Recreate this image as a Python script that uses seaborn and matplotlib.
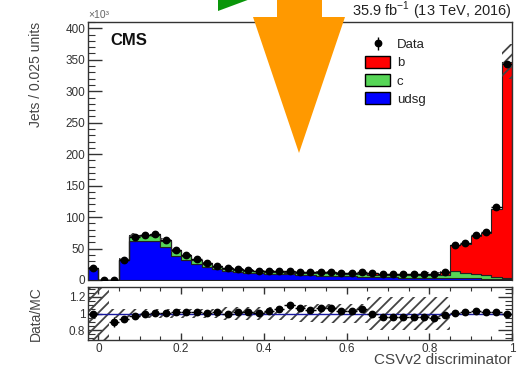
import numpy as np
import pandas as pd
import matplotlib
matplotlib.use("Agg")
import matplotlib.pyplot as plt
from matplotlib.ticker import MultipleLocator, FixedLocator, FuncFormatter
from matplotlib.patches import Polygon, Patch
import seaborn as sns

sns.set_theme(style="white")
plt.rcParams["font.family"] = ["Liberation Sans", "DejaVu Sans"]
plt.rcParams["hatch.linewidth"] = 1.3
plt.rcParams["axes.unicode_minus"] = False

# ---------------- data (jets, x10^3) ----------------
bin_width = 0.025
x_lo, x_hi = -0.025, 1.0
n_bins = 41
centers = x_lo + bin_width * (np.arange(n_bins) + 0.5)

udsg = [17.0, 0.0, 0.15, 31.0, 62.0, 62.0, 62.0, 53.0, 38.0, 31.5, 26.0, 21.0, 17.0,
        14.5, 12.8, 11.5, 10.8, 10.2, 9.6, 8.8, 8.2, 7.2, 7.0, 6.8, 6.0, 5.8, 5.5,
        4.6, 4.2, 4.0, 3.8, 3.6, 3.5, 3.3, 3.2, 3.7, 3.0, 2.5, 2.0, 1.5, 1.0]
charm = [1.2, 0.0, 0.04, 1.5, 8.0, 9.0, 9.5, 9.0, 8.0, 6.5, 5.5, 4.5, 3.8,
         3.4, 3.2, 3.1, 3.0, 3.0, 3.0, 3.0, 3.0, 3.3, 3.8, 3.9, 3.8, 3.8, 3.9,
         3.9, 4.0, 4.1, 4.0, 4.0, 4.1, 4.2, 4.3, 10.0, 8.0, 7.0, 5.5, 4.0, 2.5]
bottom_ = [0.3, 0.0, 0.01, 0.5, 1.0, 1.0, 1.0, 1.0, 1.0, 1.0, 1.0, 1.0, 1.0,
           1.0, 1.0, 1.0, 1.0, 1.1, 1.2, 1.2, 1.3, 1.5, 1.7, 1.8, 1.8, 1.9, 2.0,
           2.0, 2.1, 2.2, 2.3, 2.4, 2.5, 2.8, 5.0, 41.3, 47.0, 60.5, 67.5, 107.5, 343.5]
data = [18.3, 0.0, 0.18, 31.0, 68.9, 72.0, 73.2, 63.6, 47.9, 39.8, 33.2, 26.8, 22.2,
        18.7, 17.3, 15.9, 14.9, 14.7, 14.5, 14.4, 13.3, 12.5, 13.4, 13.3, 11.9, 11.8, 12.0,
        10.5, 9.9, 9.9, 9.7, 9.6, 9.7, 9.8, 12.3, 55.6, 59.2, 72.1, 76.5, 115.3, 343.5]
data_err = [0.3, 0.0, 0.012, 1.0, 0.7, 0.5, 0.5, 0.4, 0.4, 0.3, 0.3, 0.3, 0.3,
            0.3, 0.3, 0.3, 0.3, 0.3, 0.3, 0.3, 0.3, 0.3, 0.3, 0.3, 0.3, 0.3, 0.3,
            0.3, 0.3, 0.3, 0.3, 0.3, 0.3, 0.3, 0.3, 0.5, 0.5, 0.6, 0.6, 0.8, 1.5]
# relative MC uncertainty (hatched bands)
unc_main = [0.0, 0.0, 0.0, 0.05, 0.05, 0.05, 0.05, 0.05, 0.05, 0.05, 0.05, 0.05, 0.05,
            0.08, 0.08, 0.08, 0.08, 0.08, 0.08, 0.08, 0.10, 0.10, 0.10, 0.10, 0.10, 0.10, 0.10,
            0.20, 0.20, 0.20, 0.20, 0.20, 0.20, 0.20, 0.20, 0.0, 0.0, 0.0, 0.0, 0.0, 0.08]
unc_ratio = [1.0, 1.0, 0.06, 0.06, 0.06, 0.06, 0.06, 0.06, 0.06, 0.06, 0.06, 0.06, 0.06,
             0.08, 0.08, 0.08, 0.08, 0.08, 0.08, 0.08, 0.10, 0.10, 0.11, 0.11, 0.11, 0.11, 0.11,
             0.20, 0.20, 0.20, 0.20, 0.20, 0.20, 0.20, 0.20, 0.0, 0.0, 0.0, 0.0, 0.0, 0.0]

flavours = ["b", "c", "udsg"]
colors = {"b": "#ff0000", "c": "#57d657", "udsg": "#0000ff"}

df = pd.DataFrame({
    "x": np.tile(centers, 3),
    "w": np.concatenate([bottom_, charm, udsg]).astype(float),
    "flavour": np.repeat(flavours, len(centers)),
})

total = np.array(bottom_) + np.array(charm) + np.array(udsg)
data_a = np.array(data)
derr_a = np.array(data_err)
with np.errstate(divide="ignore", invalid="ignore"):
    ratio = np.where(total > 0, data_a / total, np.nan)
    ratio_err = np.where(total > 0, derr_a / total, np.nan)

# ---------------- figure ----------------
W, H = 519, 369
fig = plt.figure(figsize=(W / 100, H / 100), dpi=100)
L, R = 88 / W, 512 / W
ax = fig.add_axes([L, 1 - 280 / H, R - L, (280 - 22) / H])
rax = fig.add_axes([L, 1 - 340 / H, R - L, (340 - 287) / H])

ink = "#333333"
hatch_col = "#444444"
sns.histplot(data=df, x="x", weights="w", hue="flavour", hue_order=flavours,
             multiple="stack", bins=n_bins, binrange=(x_lo, x_hi), element="step",
             fill=True, palette=colors, alpha=1, linewidth=0.8, edgecolor="#222222",
             legend=False, ax=ax)

um = np.array(unc_main)
ax.bar(centers, 2 * um * total, bottom=total * (1 - um), width=bin_width,
       fill=False, hatch="///", edgecolor=hatch_col, linewidth=0, zorder=3)

ax.errorbar(centers, data_a, yerr=derr_a, xerr=bin_width / 2, fmt="o", ms=4.6,
            color="black", elinewidth=1, capsize=0, zorder=5)

ax.set_xlim(x_lo, x_hi)
ax.set_ylim(0, 410)
ax.set_xlabel("")
ax.set_ylabel("Jets / 0.025 units", loc="top", fontsize=10, color="#444444")
ax.yaxis.set_label_coords(-0.106, 1.0)
ax.yaxis.set_major_locator(MultipleLocator(50))
ax.yaxis.set_minor_locator(MultipleLocator(10))
ax.tick_params(axis="y", which="major", direction="in", length=10, width=1,
               color=ink, labelsize=8.5, labelcolor=ink, pad=2, left=True)
ax.tick_params(axis="y", which="minor", direction="in", length=5, width=0.8, color=ink, left=True)
ax.tick_params(axis="x", which="both", bottom=False, labelbottom=False)
ax.spines["bottom"].set_visible(False)
for s in ["top", "left", "right"]:
    ax.spines[s].set_color(ink)
    ax.spines[s].set_linewidth(1)

ax.text(0.052, 0.93, "CMS", transform=ax.transAxes, fontsize=12, fontweight="bold",
        va="center", ha="left", color="#111111")

data_handle = ax.errorbar([np.nan], [np.nan], yerr=[1.0], fmt="o", ms=4.6,
                          color="black", elinewidth=1, capsize=0)
handles = [data_handle,
           Patch(facecolor=colors["b"], edgecolor="black", linewidth=1),
           Patch(facecolor=colors["c"], edgecolor="black", linewidth=1),
           Patch(facecolor=colors["udsg"], edgecolor="black", linewidth=1)]
leg = ax.legend(handles, ["Data", "b", "c", "udsg"], loc="upper left",
                bbox_to_anchor=((365 - 88) / 424, (280 - 38) / 258), frameon=False,
                fontsize=9.5, handlelength=1.9, handleheight=1.0, labelspacing=0.35,
                handletextpad=0.5, borderpad=0, borderaxespad=0)
for t in leg.get_texts():
    t.set_color("#222222")

# ---------------- ratio panel ----------------
ur = np.array(unc_ratio)
rlo, rhi = 0.68, 1.32
band_lo = np.where(ur >= 1.0, rlo, 1 - ur)
band_h = np.where(ur >= 1.0, rhi - rlo, 2 * ur)
rax.bar(centers, band_h, bottom=band_lo, width=bin_width, fill=False, hatch="///",
        edgecolor=hatch_col, linewidth=0, zorder=1)
rax.axhline(1.0, color="#1a1aa0", lw=1, zorder=2)
rax.errorbar(centers, ratio, yerr=ratio_err, xerr=bin_width / 2, fmt="o", ms=4.6,
             color="black", elinewidth=1, capsize=0, zorder=5)
rax.set_xlim(x_lo, x_hi)
rax.set_ylim(rlo, rhi)
rax.xaxis.set_major_locator(FixedLocator([0, 0.2, 0.4, 0.6, 0.8, 1.0]))
rax.xaxis.set_minor_locator(MultipleLocator(0.05))
rax.yaxis.set_major_locator(FixedLocator([0.8, 1.0, 1.2]))
rax.yaxis.set_minor_locator(MultipleLocator(0.05))
fmt = FuncFormatter(lambda v, p: "%g" % round(v, 2))
rax.xaxis.set_major_formatter(fmt)
rax.yaxis.set_major_formatter(fmt)
rax.tick_params(axis="both", which="both", direction="in", top=True, right=True,
                left=True, bottom=True, color=ink, labelcolor=ink, labelsize=8.5)
rax.tick_params(axis="y", which="major", length=10, width=1, pad=2)
rax.tick_params(axis="y", which="minor", length=5, width=0.8)
rax.tick_params(axis="x", which="major", length=5, width=1, pad=2)
rax.tick_params(axis="x", which="minor", length=3, width=0.8)
for s in rax.spines.values():
    s.set_color(ink)
    s.set_linewidth(1)
rax.set_ylabel("Data/MC", fontsize=10, color="#444444")
rax.yaxis.set_label_coords(-0.106, 0.5)
rax.set_xlabel("CSVv2 discriminator", loc="right", fontsize=11, color="#444444")
rax.xaxis.set_label_coords(1.0, -0.25)

# ---------------- header texts ----------------
fig.text(512 / W, 1 - 16 / H, r"35.9 fb$^{\mathregular{-1}}$ (13 TeV, 2016)",
         ha="right", va="baseline", fontsize=10.5, color="#222222")
fig.text(88 / W, 1 - 15 / H, "×10³", ha="left", va="center", fontsize=7.5, color="#666666")

# ---------------- overlay arrows ----------------
def px(pts):
    return [(x / W, 1 - y / H) for x, y in pts]

orange = Polygon(px([(277, -2), (322, -2), (322, 17), (345, 17), (299, 153), (253, 17), (277, 17)]),
                 closed=True, facecolor="#ff9900", edgecolor="none",
                 transform=fig.transFigure, zorder=20)
green = Polygon(px([(218, -2), (218, 11), (253, -2)]), closed=True, facecolor="#0a960a",
                edgecolor="none", transform=fig.transFigure, zorder=20)
fig.add_artist(orange)
fig.add_artist(green)

fig.savefig("out.png", dpi=100)
